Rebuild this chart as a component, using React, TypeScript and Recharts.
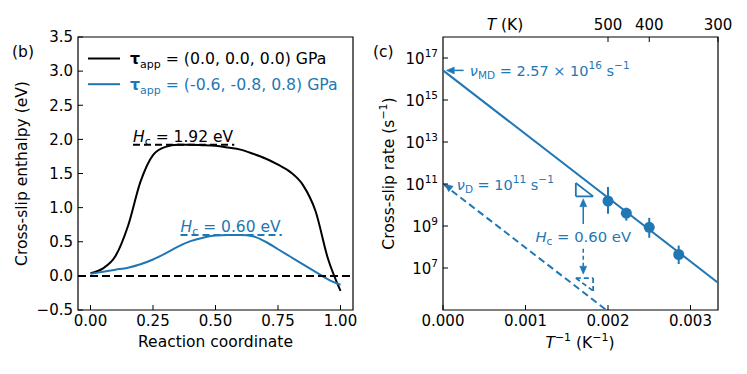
import React from 'react';
import {
  ComposedChart,
  Line,
  Scatter,
  XAxis,
  YAxis,
  ReferenceLine,
  ReferenceDot,
  ReferenceArea,
  ErrorBar,
} from 'recharts';

const FONT = '"DejaVu Sans", sans-serif';
const BLUE = '#1f77b4';
const FS = 15;
const MFS = 14.5;

// ---------- Panel (b): NEB enthalpy profiles ----------
const reactionCoord = [0, 0.05, 0.1, 0.15, 0.2, 0.25, 0.3, 0.35, 0.4, 0.45, 0.5, 0.55, 0.6, 0.65, 0.7, 0.75, 0.8, 0.85, 0.9, 0.95, 1.0];
const enthalpyZero = [0.04, 0.11, 0.29, 0.73, 1.38, 1.77, 1.89, 1.92, 1.92, 1.915, 1.905, 1.88, 1.85, 1.79, 1.72, 1.63, 1.52, 1.33, 0.95, 0.25, -0.22];
const enthalpyApplied = [0.03, 0.06, 0.09, 0.12, 0.17, 0.24, 0.33, 0.43, 0.51, 0.56, 0.59, 0.6, 0.6, 0.58, 0.5, 0.39, 0.28, 0.17, 0.06, -0.05, -0.13];
const seriesNames = ['(0.0, 0.0, 0.0) GPa', '(-0.6, -0.8, 0.8) GPa'];
const seriesColors = ['#000000', BLUE];
const barrierValues = [1.92, 0.6];
const barrierSpanX = [[0.17, 0.575], [0.36, 0.765]];
const bTicksX = [0, 0.25, 0.5, 0.75, 1.0];
const bTicksY = [-0.5, 0, 0.5, 1.0, 1.5, 2.0, 2.5, 3.0, 3.5];

// ---------- Panel (c): Arrhenius plot ----------
const invTemp = [1 / 500, 1 / 450, 1 / 400, 1 / 350];
const rateMD = [1.55e10, 4.1e9, 8.7e8, 4.4e7];
const rateLow = [3.8e9, 1.8e9, 2.75e8, 1.55e7];
const rateHigh = [7.2e10, 7.4e9, 2.45e9, 1.17e8];
const fitX = [0, 1 / 300];
const fitRate = [2.57e16, 2.0e6];
const debyeX = [0, 0.00198];
const debyeRate = [1e11, 1e5];
const cTicksX = [0, 0.001, 0.002, 0.003];
const cTicksY = [1e7, 1e9, 1e11, 1e13, 1e15, 1e17];
const topTemps = [500, 400, 300];
const triX = [0.00161, 0.00182];
const solidTriY = [1.12e11, 2.57e10];
const dashTriY = [3.3e6, 8.1e5];
const arrowX = 0.0017;
const upArrowY = [1.26e9, 2.0e10];
const downArrowY = [8.3e7, 5.1e6];

const bRows = reactionCoord.map((x, i) => ({ x, zero: enthalpyZero[i], applied: enthalpyApplied[i] }));
const pointRows = invTemp.map((x, i) => ({ x, y: rateMD[i], err: [rateMD[i] - rateLow[i], rateHigh[i] - rateMD[i]] }));
const fitRows = fitX.map((x, i) => ({ x, y: fitRate[i] }));
const debyeRows = debyeX.map((x, i) => ({ x, y: debyeRate[i] }));

const fmt2 = (v: number) => (v < 0 ? '\u2212' : '') + Math.abs(v).toFixed(2);
const fmt1 = (v: number) => (v < 0 ? '\u2212' : '') + Math.abs(v).toFixed(1);

const LeftTick = (fmt: (v: number) => string) => (p: any) => (
  <g>
    <line x1={p.x} x2={p.x + 5} y1={p.y} y2={p.y} stroke="#000" strokeWidth={1} />
    <text x={p.x - 5} y={p.y} dy={5.3} textAnchor="end" fontSize={FS} fontFamily={FONT} fill="#000">
      {fmt(p.payload.value)}
    </text>
  </g>
);

const LogTick = (p: any) => {
  const e = Math.round(Math.log10(p.payload.value));
  return (
    <g>
      <line x1={p.x} x2={p.x + 5} y1={p.y} y2={p.y} stroke="#000" strokeWidth={1} />
      <text x={p.x - 5} y={p.y} dy={5.5} textAnchor="end" fontSize={FS} fontFamily={FONT} fill="#000">
        <tspan>10</tspan>
        <tspan dy={-7} fontSize={10.5}>{e}</tspan>
      </text>
    </g>
  );
};

const BottomTick = (fmt: (v: number) => string) => (p: any) => (
  <g>
    <line x1={p.x} x2={p.x} y1={p.y} y2={p.y - 5} stroke="#000" strokeWidth={1} />
    <text x={p.x} y={p.y + 16} textAnchor="middle" fontSize={FS} fontFamily={FONT} fill="#000">
      {fmt(p.payload.value)}
    </text>
  </g>
);

const TopTick = (p: any) => (
  <g>
    <line x1={p.x} x2={p.x} y1={p.y} y2={p.y + 5} stroke="#000" strokeWidth={1} />
    <text x={p.x} y={p.y - 7} textAnchor="middle" fontSize={FS} fontFamily={FONT} fill="#000">
      {Math.round(1 / p.payload.value)}
    </text>
  </g>
);

const arrowShape = (dashed: boolean) => (p: any) => {
  const { x1, y1, x2, y2 } = p;
  const ang = Math.atan2(y2 - y1, x2 - x1);
  const c = Math.cos(ang);
  const s = Math.sin(ang);
  const L = 8;
  const W = 3.5;
  const bx = x2 - L * c;
  const by = y2 - L * s;
  const pts = `${x2},${y2} ${bx - W * s},${by + W * c} ${bx + W * s},${by - W * c}`;
  return (
    <g>
      <line x1={x1} y1={y1} x2={bx} y2={by} stroke={BLUE} strokeWidth={1.5} strokeDasharray={dashed ? '4 3' : undefined} />
      <polygon points={pts} fill={BLUE} stroke={BLUE} strokeWidth={0.5} />
    </g>
  );
};

const HcLabel = (value: number, color: string) => (p: any) => (
  <text x={p.cx} y={p.cy - 3} fontSize={15.5} fontFamily={FONT} fill={color}>
    <tspan fontStyle="italic">H</tspan>
    <tspan fontSize={11} dy={3}>c</tspan>
    <tspan dy={-3}>{' = ' + value.toFixed(2) + ' eV'}</tspan>
  </text>
);

const NuMDLabel = (p: any) => (
  <text x={p.cx} y={p.cy} dy={5.5} fontSize={MFS} fontFamily={FONT} fill={BLUE}>
    <tspan fontStyle="italic">ν</tspan>
    <tspan fontSize={10.5} dy={3}>MD</tspan>
    <tspan dy={-3}>{' = 2.57 × 10'}</tspan>
    <tspan fontSize={10.5} dy={-7}>16</tspan>
    <tspan dy={7}>{' s'}</tspan>
    <tspan fontSize={10.5} dy={-7}>{'\u22121'}</tspan>
  </text>
);

const NuDLabel = (p: any) => (
  <text x={p.cx} y={p.cy} dy={5.5} fontSize={MFS} fontFamily={FONT} fill={BLUE}>
    <tspan fontStyle="italic">ν</tspan>
    <tspan fontSize={10.5} dy={3}>D</tspan>
    <tspan dy={-3}>{' = 10'}</tspan>
    <tspan fontSize={10.5} dy={-7}>11</tspan>
    <tspan dy={7}>{' s'}</tspan>
    <tspan fontSize={10.5} dy={-7}>{'\u22121'}</tspan>
  </text>
);

const HcMidLabel = (p: any) => (
  <text x={p.cx} y={p.cy} dy={5.5} textAnchor="middle" fontSize={14.8} fontFamily={FONT} fill={BLUE}>
    <tspan fontStyle="italic">H</tspan>
    <tspan fontSize={10.5} dy={3}>c</tspan>
    <tspan dy={-3}>{' = 0.60 eV'}</tspan>
  </text>
);

const Overlay = () => (
  <svg width={747} height={374} style={{ position: 'absolute', left: 0, top: 0, pointerEvents: 'none' }} fontFamily={FONT}>
    <text x={12} y={57} fontSize={15.5} fill="#000">(b)</text>
    <text x={373} y={57} fontSize={15.5} fill="#000">(c)</text>
    {seriesNames.map((name, i) => (
      <g key={name}>
        <line x1={88} x2={120} y1={58.5 + i * 25.7} y2={58.5 + i * 25.7} stroke={seriesColors[i]} strokeWidth={2} />
        <text x={130} y={64 + i * 25.7} fontSize={15.7} fill={seriesColors[i]}>
          <tspan fontWeight="bold">τ</tspan>
          <tspan fontSize={11} dy={4}>app</tspan>
          <tspan dy={-4}>{' = ' + name}</tspan>
        </text>
      </g>
    ))}
    <text transform="translate(27,173.5) rotate(-90)" textAnchor="middle" fontSize={15.5} fill="#000">
      Cross-slip enthalpy (eV)
    </text>
    <text x={215.5} y={347} textAnchor="middle" fontSize={15.5} fill="#000">Reaction coordinate</text>
    <text transform="translate(394,173.5) rotate(-90)" textAnchor="middle" fontSize={15.5} fill="#000">
      <tspan>Cross-slip rate (s</tspan>
      <tspan fontSize={11} dy={-7}>{'\u22121'}</tspan>
      <tspan dy={7}>)</tspan>
    </text>
    <text x={580} y={348} textAnchor="middle" fontSize={15.5} fill="#000">
      <tspan fontStyle="italic">T</tspan>
      <tspan fontSize={11} dy={-7}>{'\u22121'}</tspan>
      <tspan dy={7}>{' (K'}</tspan>
      <tspan fontSize={11} dy={-7}>{'\u22121'}</tspan>
      <tspan dy={7}>)</tspan>
    </text>
    <text x={505} y={30} textAnchor="middle" fontSize={15.5} fill="#000">
      <tspan fontStyle="italic">T</tspan>
      <tspan>{' (K)'}</tspan>
    </text>
  </svg>
);

export default function App() {
  return (
    <div style={{ position: 'absolute', left: 0, top: 0, width: 747, height: 374, background: '#fff', fontFamily: FONT }}>
      <div style={{ position: 'absolute', left: 0, top: 0 }}>
        <ComposedChart width={370} height={374} data={bRows} margin={{ top: 37, right: 17, bottom: 0, left: 0 }}>
          <XAxis
            type="number"
            dataKey="x"
            domain={[-0.05, 1.05]}
            ticks={bTicksX}
            interval={0}
            allowDataOverflow
            height={64}
            tickSize={0}
            tickMargin={0}
            tickLine={false}
            axisLine={false}
            tick={BottomTick(fmt2)}
          />
          <YAxis
            type="number"
            domain={[-0.5, 3.5]}
            ticks={bTicksY}
            interval={0}
            allowDataOverflow
            width={78}
            tickSize={0}
            tickMargin={0}
            tickLine={false}
            axisLine={false}
            tick={LeftTick(fmt1)}
          />
          <ReferenceArea x1={-0.05} x2={1.05} y1={-0.5} y2={3.5} fill="none" stroke="#000" strokeWidth={1.2} ifOverflow="visible" />
          <Line type="monotone" dataKey="zero" stroke={seriesColors[0]} strokeWidth={2} dot={false} isAnimationActive={false} />
          <Line type="monotone" dataKey="applied" stroke={seriesColors[1]} strokeWidth={2} dot={false} isAnimationActive={false} />
          <ReferenceLine y={0} stroke="#000" strokeWidth={2} strokeDasharray="8 4" />
          {barrierValues.map((v, i) => (
            <ReferenceLine
              key={'bl' + i}
              segment={[{ x: barrierSpanX[i][0], y: v }, { x: barrierSpanX[i][1], y: v }]}
              stroke={seriesColors[i]}
              strokeWidth={2}
              strokeDasharray="7 4"
            />
          ))}
          {barrierValues.map((v, i) => (
            <ReferenceDot key={'bt' + i} x={barrierSpanX[i][0]} y={v} r={0} shape={HcLabel(v, seriesColors[i])} ifOverflow="visible" />
          ))}
        </ComposedChart>
      </div>

      <div style={{ position: 'absolute', left: 370, top: 0 }}>
        <ComposedChart width={377} height={374} margin={{ top: 0, right: 29, bottom: 0, left: 0 }}>
          <XAxis
            xAxisId="b"
            type="number"
            dataKey="x"
            domain={[0, 1 / 300]}
            ticks={cTicksX}
            interval={0}
            allowDataOverflow
            height={64}
            tickSize={0}
            tickMargin={0}
            tickLine={false}
            axisLine={false}
            tick={BottomTick((v) => v.toFixed(3))}
          />
          <XAxis
            xAxisId="t"
            orientation="top"
            type="number"
            dataKey="x"
            domain={[0, 1 / 300]}
            ticks={topTemps.map((t) => 1 / t)}
            interval={0}
            allowDataOverflow
            height={37}
            tickSize={0}
            tickMargin={0}
            tickLine={false}
            axisLine={false}
            tick={TopTick}
          />
          <YAxis
            type="number"
            scale="log"
            domain={[1e5, 1e18]}
            ticks={cTicksY}
            interval={0}
            allowDataOverflow
            width={73}
            tickSize={0}
            tickMargin={0}
            tickLine={false}
            axisLine={false}
            tick={LogTick}
          />
          <ReferenceArea xAxisId="b" x1={0} x2={1 / 300} y1={1e5} y2={1e18} fill="none" stroke="#000" strokeWidth={1.2} ifOverflow="visible" />
          <Line xAxisId="b" data={fitRows} dataKey="y" type="linear" stroke={BLUE} strokeWidth={2} dot={false} isAnimationActive={false} />
          <Line xAxisId="b" data={debyeRows} dataKey="y" type="linear" stroke={BLUE} strokeWidth={2} strokeDasharray="7 4" dot={false} isAnimationActive={false} />
          <Scatter
            xAxisId="b"
            data={pointRows}
            dataKey="y"
            fill={BLUE}
            isAnimationActive={false}
            shape={(p: any) => <circle cx={p.cx} cy={p.cy} r={5.5} fill={BLUE} />}
          >
            <ErrorBar dataKey="err" direction="y" width={0} stroke={BLUE} strokeWidth={2} isAnimationActive={false} />
          </Scatter>
          {/* slope triangles */}
          <ReferenceLine xAxisId="b" segment={[{ x: triX[0], y: solidTriY[0] }, { x: triX[0], y: solidTriY[1] }]} stroke={BLUE} strokeWidth={1.8} />
          <ReferenceLine xAxisId="b" segment={[{ x: triX[0], y: solidTriY[1] }, { x: triX[1], y: solidTriY[1] }]} stroke={BLUE} strokeWidth={1.8} />
          <ReferenceLine xAxisId="b" segment={[{ x: triX[0], y: solidTriY[0] }, { x: triX[1], y: solidTriY[1] }]} stroke={BLUE} strokeWidth={1.8} />
          <ReferenceLine xAxisId="b" segment={[{ x: triX[0], y: dashTriY[0] }, { x: triX[1], y: dashTriY[0] }]} stroke={BLUE} strokeWidth={1.8} strokeDasharray="5 3" />
          <ReferenceLine xAxisId="b" segment={[{ x: triX[1], y: dashTriY[0] }, { x: triX[1], y: dashTriY[1] }]} stroke={BLUE} strokeWidth={1.8} strokeDasharray="5 3" />
          <ReferenceLine xAxisId="b" segment={[{ x: triX[0], y: dashTriY[0] }, { x: triX[1], y: dashTriY[1] }]} stroke={BLUE} strokeWidth={1.8} strokeDasharray="5 3" />
          {/* arrows */}
          <ReferenceLine xAxisId="b" segment={[{ x: arrowX, y: upArrowY[0] }, { x: arrowX, y: upArrowY[1] }]} shape={arrowShape(false)} />
          <ReferenceLine xAxisId="b" segment={[{ x: arrowX, y: downArrowY[0] }, { x: arrowX, y: downArrowY[1] }]} shape={arrowShape(true)} />
          <ReferenceLine xAxisId="b" segment={[{ x: 0.00025, y: fitRate[0] }, { x: 0.00004, y: fitRate[0] }]} shape={arrowShape(false)} />
          <ReferenceLine xAxisId="b" segment={[{ x: 0.00009, y: 6.0e10 }, { x: 0.00002, y: debyeRate[0] }]} shape={arrowShape(false)} />
          {/* labels */}
          <ReferenceDot xAxisId="b" x={0.000325} y={fitRate[0]} r={0} shape={NuMDLabel} ifOverflow="visible" />
          <ReferenceDot xAxisId="b" x={0.000167} y={debyeRate[0]} r={0} shape={NuDLabel} ifOverflow="visible" />
          <ReferenceDot xAxisId="b" x={arrowX} y={3.2e8} r={0} shape={HcMidLabel} ifOverflow="visible" />
        </ComposedChart>
      </div>
      <Overlay />
    </div>
  );
}
